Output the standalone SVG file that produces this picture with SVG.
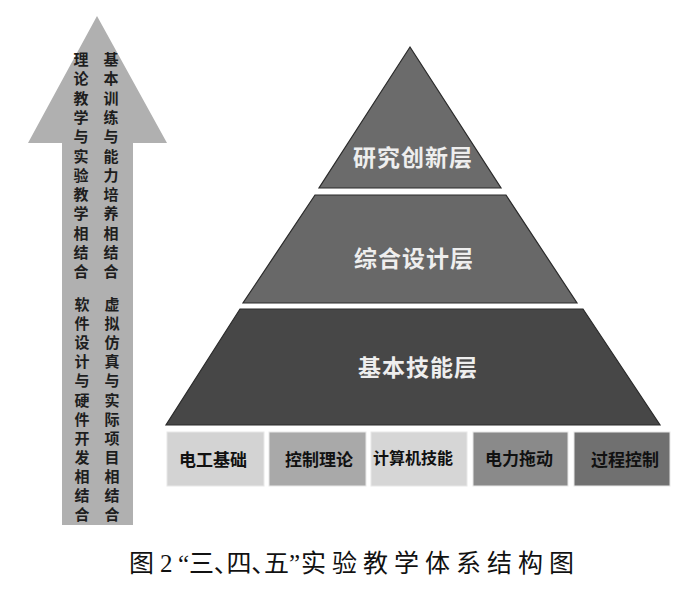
<svg xmlns="http://www.w3.org/2000/svg" width="700" height="590" viewBox="0 0 700 590">
<style>
.vt{font-family:"Noto Sans CJK SC","Noto Sans CJK JP",sans-serif;font-size:15px;font-weight:bold;fill:#1e1e1e;text-anchor:middle}
.lay{font-family:"Noto Sans CJK SC","Noto Sans CJK JP",sans-serif;font-size:23px;font-weight:bold;fill:#eeeeee;text-anchor:middle;letter-spacing:1px}
.box{stroke:#e8e8e8;stroke-width:1}
.bt{font-family:"Noto Sans CJK SC","Noto Sans CJK JP",sans-serif;font-size:17px;font-weight:bold;fill:#111;text-anchor:middle}
.layer{stroke:#2a2a2a;stroke-width:1.2}
.cap{font-family:"Liberation Serif","Noto Sans CJK SC",serif;font-size:25px;fill:#111}
.palt{font-feature-settings:"palt" 1}
</style>
<rect width="700" height="590" fill="#ffffff"/>
<g id="arrow">
<polygon points="97,16 167,143 133,143 133,525 62,525 62,143 28,143" fill="#b0b0b0"/>
<text class="vt"><tspan x="81" y="65">理</tspan><tspan x="81" y="84.3">论</tspan><tspan x="81" y="103.6">教</tspan><tspan x="81" y="122.9">学</tspan><tspan x="81" y="142.2">与</tspan><tspan x="81" y="161.5">实</tspan><tspan x="81" y="180.8">验</tspan><tspan x="81" y="200.1">教</tspan><tspan x="81" y="219.4">学</tspan><tspan x="81" y="238.7">相</tspan><tspan x="81" y="258">结</tspan><tspan x="81" y="277.3">合</tspan></text>
<text class="vt"><tspan x="111" y="65">基</tspan><tspan x="111" y="84.3">本</tspan><tspan x="111" y="103.6">训</tspan><tspan x="111" y="122.9">练</tspan><tspan x="111" y="142.2">与</tspan><tspan x="111" y="161.5">能</tspan><tspan x="111" y="180.8">力</tspan><tspan x="111" y="200.1">培</tspan><tspan x="111" y="219.4">养</tspan><tspan x="111" y="238.7">相</tspan><tspan x="111" y="258">结</tspan><tspan x="111" y="277.3">合</tspan></text>
<text class="vt"><tspan x="82" y="310">软</tspan><tspan x="82" y="329.1">件</tspan><tspan x="82" y="348.2">设</tspan><tspan x="82" y="367.3">计</tspan><tspan x="82" y="386.4">与</tspan><tspan x="82" y="405.5">硬</tspan><tspan x="82" y="424.6">件</tspan><tspan x="82" y="443.7">开</tspan><tspan x="82" y="462.8">发</tspan><tspan x="82" y="481.9">相</tspan><tspan x="82" y="501">结</tspan><tspan x="82" y="520.1">合</tspan></text>
<text class="vt"><tspan x="112" y="310">虚</tspan><tspan x="112" y="329.1">拟</tspan><tspan x="112" y="348.2">仿</tspan><tspan x="112" y="367.3">真</tspan><tspan x="112" y="386.4">与</tspan><tspan x="112" y="405.5">实</tspan><tspan x="112" y="424.6">际</tspan><tspan x="112" y="443.7">项</tspan><tspan x="112" y="462.8">目</tspan><tspan x="112" y="481.9">相</tspan><tspan x="112" y="501">结</tspan><tspan x="112" y="520.1">合</tspan></text>
</g>
<g id="layer-top">
<polygon class="layer" points="410,47 501,188 319,188" fill="#6b6b6b"/>
<text class="lay" x="413" y="166">研究创新层</text>
</g>
<g id="layer-middle">
<polygon class="layer" points="315,195 506,195 577,303 243,303" fill="#686868"/>
<text class="lay" x="414" y="267">综合设计层</text>
</g>
<g id="layer-bottom">
<polygon class="layer" points="240,309 583,309 660,425 166,425" fill="#474747"/>
<text class="lay" x="418" y="376">基本技能层</text>
</g>
<g id="box1"><rect class="box" x="167" y="432" width="97" height="54" fill="#d3d3d3"/><text class="bt" x="213" y="466">电工基础</text></g>
<g id="box2"><rect class="box" x="269" y="432" width="97" height="54" fill="#a9a9a9"/><text class="bt" x="319" y="466">控制理论</text></g>
<g id="box3"><rect class="box" x="371" y="432" width="96" height="54" fill="#d6d6d6"/><text class="bt" x="413" y="464" style="font-size:16px">计算机技能</text></g>
<g id="box4"><rect class="box" x="473" y="432" width="95" height="54" fill="#8a8a8a"/><text class="bt" x="519" y="465">电力拖动</text></g>
<g id="box5"><rect class="box" x="574" y="432" width="96" height="54" fill="#707070"/><text class="bt" x="625" y="466">过程控制</text></g>
<g id="connectors"></g>
<text class="cap" y="572"><tspan x="129">图</tspan><tspan x="160">2</tspan><tspan x="178" class="palt">“三、四、五”</tspan><tspan x="301" letter-spacing="6">实验教学体系结构图</tspan></text>
</svg>
